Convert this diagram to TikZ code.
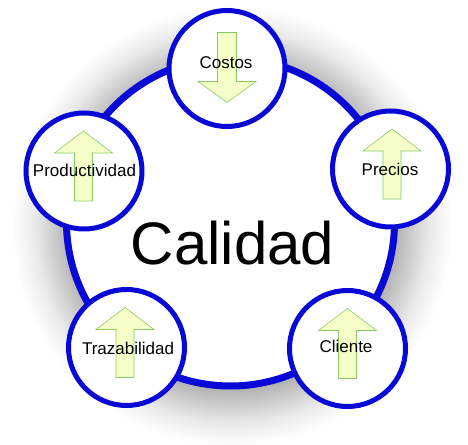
\documentclass[tikz,border=0pt]{standalone}
\usepackage{fontspec}
\setmainfont{Liberation Sans}
\definecolor{ringblue}{RGB}{8,8,215}
\definecolor{arrowfill}{RGB}{245,255,200}
\definecolor{arrowline}{RGB}{140,200,100}
\pgfdeclareradialshading{glow}{\pgfpoint{0bp}{0bp}}{color(0bp)=(black!30); color(18.5bp)=(black!30); color(20.5bp)=(black!19); color(22.5bp)=(black!8); color(25bp)=(white); color(50bp)=(white)}
\begin{document}
\begin{tikzpicture}[x=1pt,y=1pt,
  bigring/.style={circle, draw=ringblue, line width=7pt, fill=white, minimum size=328pt, inner sep=0pt},
  ring/.style={circle, draw=ringblue, line width=5pt, fill=white, minimum size=116pt, inner sep=0pt},
  itemtext/.style={font=\fontsize{17}{20}\selectfont, inner sep=0pt, anchor=base},
  bigtext/.style={font=\fontsize{60}{70}\selectfont, inner sep=0pt, anchor=base},
  arr/.style={fill=arrowfill, draw=arrowline, line width=0.6pt},
  uparrow/.pic={\path[arr] (-9,-30) -- (-9,18) -- (-29,18) -- (0,40) -- (29,18) -- (9,18) -- (9,-30) -- cycle;},
  downarrow/.pic={\path[arr] (-9.5,36) -- (-9.5,-13) -- (-29,-13) -- (0,-34) -- (29,-13) -- (9.5,-13) -- (9.5,36) -- cycle;}
]
\useasboundingbox (0,0) rectangle (468,444);
\fill[white] (0,0) rectangle (468,444);
% soft shadow
\shade[shading=glow] (232,218) circle[radius=220];
% main ring
\node[bigring] (calidad) at (230.5,222) {};
% satellites
\node[ring] (costos) at (227,375.5) {};
\node[ring] (prod) at (84,273) {};
\node[ring] (precios) at (390.5,275) {};
\node[ring] (traz) at (126.5,96.5) {};
\node[ring] (cliente) at (347.5,95.5) {};
% arrows
\pic at (costos.center) {downarrow};
\pic at ([xshift=-0.5pt]prod.center) {uparrow};
\pic at ([xshift=1.5pt]precios.center) {uparrow};
\pic at ([xshift=-1.5pt]traz.center) {uparrow};
\pic at (cliente.center) {uparrow};
% texts
\node[itemtext] (tcostos) at (226,375.5) {Costos};
\node[itemtext] (tprod) at (84.5,267) {Productividad};
\node[itemtext] (tprecios) at (390,268) {Precios};
\node[itemtext] (ttraz) at (128,89) {Trazabilidad};
\node[itemtext] (tcliente) at (346,91) {Cliente};
\node[bigtext] (tcalidad) at (232.5,179) {Calidad};
\end{tikzpicture}
\end{document}
